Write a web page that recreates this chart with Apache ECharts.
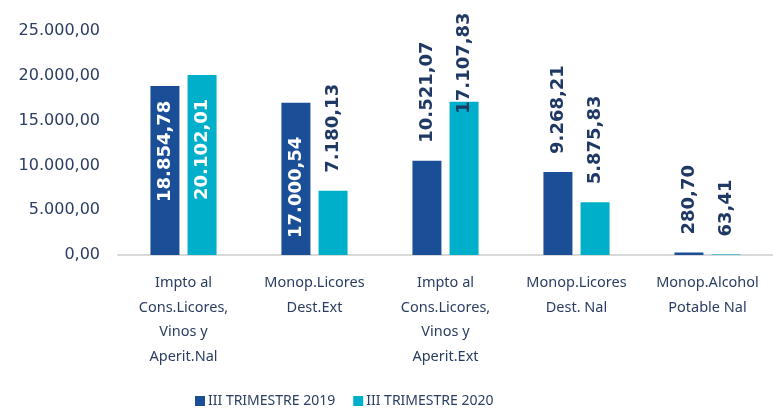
<!DOCTYPE html>
<html>
<head>
<meta charset="utf-8">
<script src="https://cdn.jsdelivr.net/npm/echarts@6/dist/echarts.min.js"></script>
<style>
  html, body { margin: 0; padding: 0; background: #fff; }
  #chart { width: 773px; height: 409px; }
</style>
</head>
<body>
<div id="chart"></div>
<script>
const categories = [
    'Impto al\nCons.Licores,\nVinos y\nAperit.Nal',
    'Monop.Licores\nDest.Ext',
    'Impto al\nCons.Licores,\nVinos y\nAperit.Ext',
    'Monop.Licores\nDest. Nal',
    'Monop.Alcohol\nPotable Nal',
]
const seriesNames = ['III TRIMESTRE 2019', 'III TRIMESTRE 2020']
const values2019 = [18854.78, 17000.54, 10521.07, 9268.21, 280.7]
const values2020 = [20102.01, 7180.13, 17107.83, 5875.83, 63.41]

const c = {
    dark: '#1a4e96',
    cyan: '#00afc9',
    text: '#2a3d62',
    label: '#1f3864',
    axis: '#d9d9d9',
}

// spanish number format: 18.854,78
function fmt(v) {
    const [int, dec] = v.toFixed(2).split('.')
    return int.replace(/\B(?=(\d{3})+(?!\d))/g, '.') + ',' + dec
}

// label placement per bar, tuned to the picture
const inside = {
    '0-0': 53,
    '1-0': 55,
    '0-1': 17,
}
const outsideOffset = {
    '1-2': -30,
}

function buildData(values, s) {
    return values.map((v, i) => {
        const key = s + '-' + i
        if (inside[key] !== undefined) {
            return {
                value: v,
                label: {
                    position: 'insideBottom',
                    distance: inside[key],
                    color: '#fff',
                },
            }
        }
        return {
            value: v,
            label: {
                position: 'top',
                distance: 18 + (outsideOffset[key] || 0),
                color: c.label,
            },
        }
    })
}

const chart = echarts.init(document.getElementById('chart'))
chart.setOption({
    animation: false,
    grid: { left: 118, right: 0, top: 31, bottom: 154 },
    legend: {
        data: seriesNames,
        left: 190,
        top: 389,
        icon: 'rect',
        itemWidth: 10,
        itemHeight: 10,
        itemGap: 18,
        textStyle: { fontFamily: 'Noto Sans', fontSize: 14, color: c.text, padding: [0, 0, 0, -2] },
    },
    xAxis: {
        type: 'category',
        data: categories,
        axisLine: { lineStyle: { color: c.axis, width: 2 } },
        axisTick: { show: false },
        axisLabel: {
            interval: 0,
            margin: 16,
            fontFamily: 'Noto Sans',
            fontSize: 14.5,
            lineHeight: 24.5,
            color: c.text,
        },
    },
    yAxis: {
        type: 'value',
        min: 0,
        max: 25000,
        interval: 5000,
        axisLine: { show: false },
        axisTick: { show: false },
        splitLine: { show: false },
        axisLabel: {
            margin: 18,
            fontFamily: 'DejaVu Sans',
            fontSize: 16,
            color: c.text,
            formatter: (v) => fmt(v),
        },
    },
    series: [values2019, values2020].map((vals, s) => ({
        name: seriesNames[s],
        type: 'bar',
        barWidth: 29,
        barGap: '28%',
        itemStyle: { color: s === 0 ? c.dark : c.cyan },
        label: {
            show: true,
            rotate: 90,
            align: 'left',
            verticalAlign: 'middle',
            fontFamily: 'DejaVu Sans',
            fontWeight: 'bold',
            fontSize: 18,
            formatter: (p) => fmt(p.value),
        },
        data: buildData(vals, s),
    })),
})
</script>
</body>
</html>
